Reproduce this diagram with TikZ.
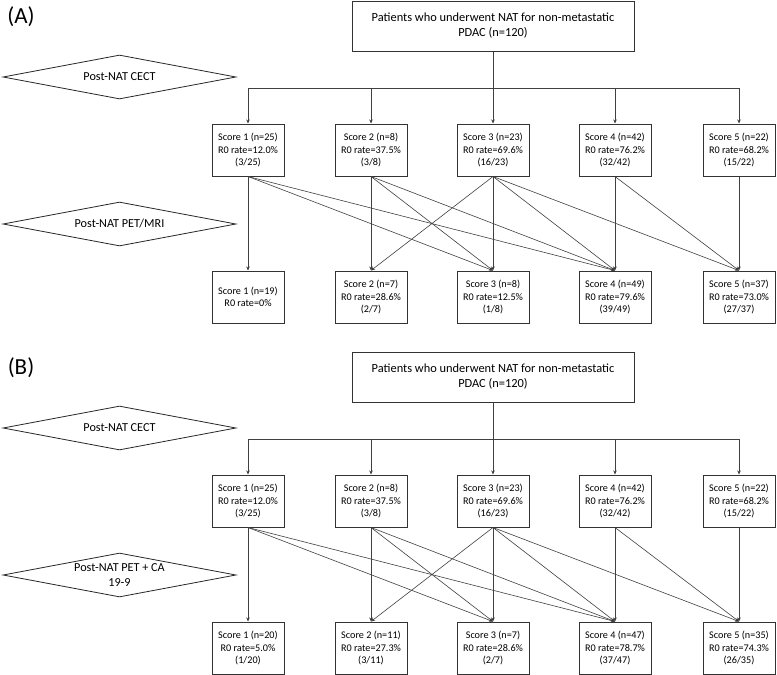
\documentclass[tikz,border=0pt]{standalone}
\usepackage{fontspec}
\setmainfont{Carlito}
\usetikzlibrary{shapes.geometric,arrows.meta}
\begin{document}
\begin{tikzpicture}[x=1pt,y=-1pt,
  scorebox/.style={draw=black!80, line width=1pt, minimum width=72pt, minimum height=52pt, inner sep=0pt, align=center, font=\fontsize{10.2}{12.5}\selectfont},
  titlebox/.style={draw=black!80, line width=1pt, minimum width=282pt, minimum height=50pt, inner sep=0pt, align=center, font=\fontsize{12.4}{15}\selectfont},
  decision/.style={draw=black!85, line width=0.8pt, shape=diamond, aspect=5.3, minimum width=233pt, minimum height=44pt, inner sep=0pt, align=center, font=\fontsize{12.2}{15}\selectfont},
  panel/.style={inner sep=0pt, font=\fontsize{23}{26}\selectfont},
  link/.style={draw=black!75, line width=0.6pt},
  arr/.style={link, -{Stealth[length=4pt,width=3.5pt]}}]

\useasboundingbox (0,0) rectangle (777,675);

% ---------------- Panel A ----------------
\node[panel] (labA) at (21,17) {(A)};
\node[titlebox] (titA) at (493,26) {Patients who underwent NAT for non-metastatic\\PDAC (n=120)};
\node[decision] (cectA) at (119.5,77) {Post-NAT CECT};
\coordinate (hA) at (493,88);

\node[scorebox] (tA1) at (248,150) {Score 1 (n=25)\\R0 rate=12.0\%\\(3/25)};
\node[scorebox] (tA2) at (371,150) {Score 2 (n=8)\\R0 rate=37.5\%\\(3/8)};
\node[scorebox] (tA3) at (493,150) {Score 3 (n=23)\\R0 rate=69.6\%\\(16/23)};
\node[scorebox] (tA4) at (615,150) {Score 4 (n=42)\\R0 rate=76.2\%\\(32/42)};
\node[scorebox] (tA5) at (739,150) {Score 5 (n=22)\\R0 rate=68.2\%\\(15/22)};

\node[decision] (petA) at (119.5,224) {Post-NAT PET/MRI};

\node[scorebox] (bA1) at (248,297) {Score 1 (n=19)\\R0 rate=0\%};
\node[scorebox] (bA2) at (371,297) {Score 2 (n=7)\\R0 rate=28.6\%\\(2/7)};
\node[scorebox] (bA3) at (493,297) {Score 3 (n=8)\\R0 rate=12.5\%\\(1/8)};
\node[scorebox] (bA4) at (615,297) {Score 4 (n=49)\\R0 rate=79.6\%\\(39/49)};
\node[scorebox] (bA5) at (739,297) {Score 5 (n=37)\\R0 rate=73.0\%\\(27/37)};

\draw[link] (titA.south) -- (hA);
\draw[link] (tA1.north |- hA) -- (tA5.north |- hA);
\foreach \i in {1,...,5} \draw[arr] (tA\i.north |- hA) -- (tA\i.north);
\foreach \a/\b in {1/1,1/3,1/4,2/2,2/3,2/4,3/2,3/3,3/4,3/5,4/4,4/5,5/5}
  \draw[arr] (tA\a.south) -- (bA\b.north);

% ---------------- Panel B ----------------
\node[panel] (labB) at (21,368) {(B)};
\node[titlebox] (titB) at (493,377) {Patients who underwent NAT for non-metastatic\\PDAC (n=120)};
\node[decision] (cectB) at (119.5,428) {Post-NAT CECT};
\coordinate (hB) at (493,439);

\node[scorebox] (tB1) at (248,501) {Score 1 (n=25)\\R0 rate=12.0\%\\(3/25)};
\node[scorebox] (tB2) at (371,501) {Score 2 (n=8)\\R0 rate=37.5\%\\(3/8)};
\node[scorebox] (tB3) at (493,501) {Score 3 (n=23)\\R0 rate=69.6\%\\(16/23)};
\node[scorebox] (tB4) at (615,501) {Score 4 (n=42)\\R0 rate=76.2\%\\(32/42)};
\node[scorebox] (tB5) at (739,501) {Score 5 (n=22)\\R0 rate=68.2\%\\(15/22)};

\node[decision] (petB) at (119.5,575) {Post-NAT PET + CA\\19-9};

\node[scorebox] (bB1) at (248,648) {Score 1 (n=20)\\R0 rate=5.0\%\\(1/20)};
\node[scorebox] (bB2) at (371,648) {Score 2 (n=11)\\R0 rate=27.3\%\\(3/11)};
\node[scorebox] (bB3) at (493,648) {Score 3 (n=7)\\R0 rate=28.6\%\\(2/7)};
\node[scorebox] (bB4) at (615,648) {Score 4 (n=47)\\R0 rate=78.7\%\\(37/47)};
\node[scorebox] (bB5) at (739,648) {Score 5 (n=35)\\R0 rate=74.3\%\\(26/35)};

\draw[link] (titB.south) -- (hB);
\draw[link] (tB1.north |- hB) -- (tB5.north |- hB);
\foreach \i in {1,...,5} \draw[arr] (tB\i.north |- hB) -- (tB\i.north);
\foreach \a/\b in {1/1,1/3,1/4,2/2,2/3,2/4,3/2,3/3,3/4,3/5,4/4,4/5,5/5}
  \draw[arr] (tB\a.south) -- (bB\b.north);
\end{tikzpicture}
\end{document}
